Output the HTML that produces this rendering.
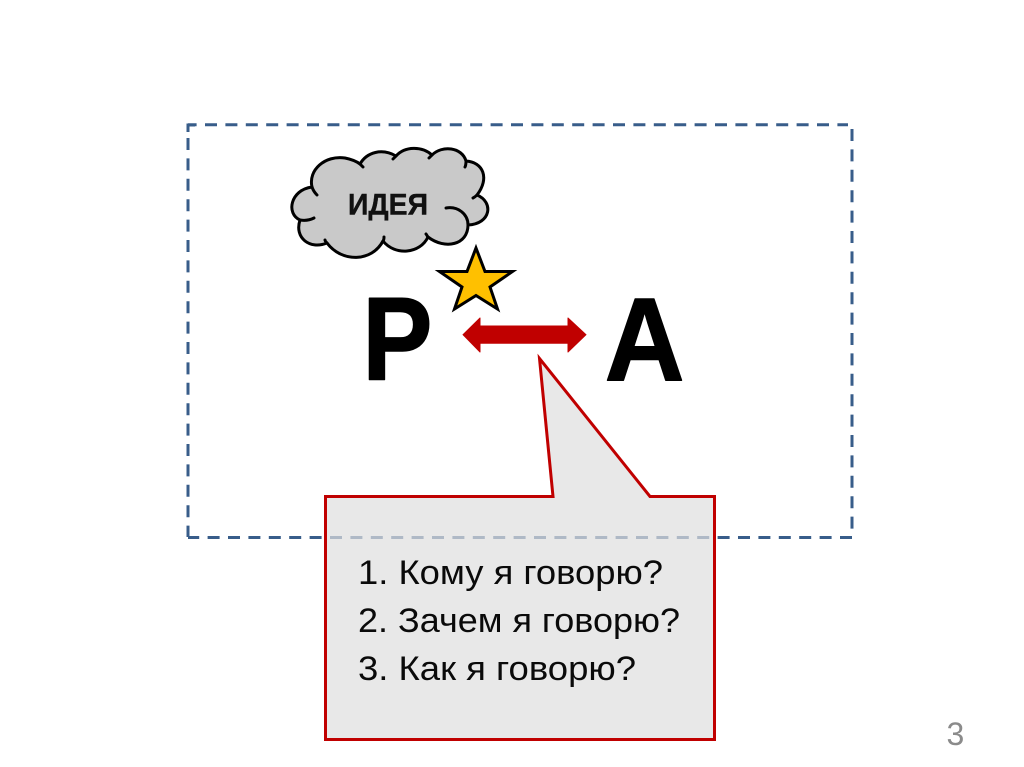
<!DOCTYPE html>
<html>
<head>
<meta charset="utf-8">
<style>
html,body{margin:0;padding:0;background:#fff;width:1024px;height:767px;overflow:hidden}
svg{display:block}
text{font-family:"Liberation Sans",sans-serif}
</style>
</head>
<body>
<svg width="1024" height="767" viewBox="0 0 1024 767" xmlns="http://www.w3.org/2000/svg">
<rect width="1024" height="767" fill="#fff"/>

<!-- dashed frame -->
<g stroke="#385d8a" stroke-width="3" fill="none" stroke-dasharray="12 8.4">
<line x1="188" y1="124.7" x2="848" y2="124.7" stroke-dashoffset="3.4"/>
<line x1="852" y1="125" x2="852" y2="537" stroke-dashoffset="-4"/>
<line x1="188" y1="537.5" x2="853" y2="537.5" stroke-dashoffset="0.8"/>
<line x1="188" y1="125" x2="188" y2="537" stroke-dashoffset="7.4"/>
</g>
<path d="M188 132V125H195" fill="none" stroke="#385d8a" stroke-width="3"/>

<!-- cloud -->
<path d="M312 187 C308 170 325 155 345 158 C350 159 356 161 360 164 C367 152 382 148 396 156 C405 146 422 146 432 155 C442 145 462 147 466 161 C483 162 490 178 477 195 C494 202 491 224 468 225 C468 245 445 250 428 237 C420 254 395 256 383 241 C372 262 342 263 327 243 C310 250 294 238 300 220 C286 214 290 190 312 187 Z" fill="#c9c9c9" stroke="#000" stroke-width="3" stroke-linejoin="round"/>
<path d="M312 187 C313 190 315 193 317 195 M300 220 C306 221 310 220 314 218 M360 164 C361 165 362 166 363 167 M396 156 C395 157 394 158 393 159 M432 155 C431 156 430 157 429 158 M466 161 C466 163 466 165 465 167 M477 195 C476 196 475 197 473 198 M446 208 C458 206 468 214 468 225 M428 237 C427 236 427 235 426 234 M383 241 C384 240 384 238 384 237 M327 243 C326 242 325 241 325 240" fill="none" stroke="#000" stroke-width="3" stroke-linecap="round"/>
<text x="348" y="214.5" font-size="30" font-weight="bold" fill="#111" stroke="#111" stroke-width="0.4" textLength="80" lengthAdjust="spacingAndGlyphs">ИДЕЯ</text>

<!-- P and A -->
<text x="362.4" y="379.5" font-size="118" font-weight="bold" fill="#000" stroke="#000" stroke-width="1.5" stroke-linejoin="round" textLength="70" lengthAdjust="spacingAndGlyphs">Р</text>
<text x="604.7" y="380" font-size="118" font-weight="bold" fill="#000" stroke="#000" stroke-width="1.5" stroke-linejoin="round" textLength="79.7" lengthAdjust="spacingAndGlyphs">А</text>

<!-- star -->
<polygon points="476,248 485,271.5 512.5,271.5 490,287 497.5,309 476,295.5 454.5,309 462,287 439.5,271.5 467,271.5" fill="#ffc000" stroke="#000" stroke-width="3" stroke-linejoin="miter" stroke-miterlimit="10"/>

<!-- double arrow -->
<polygon points="463,334.7 480,318 480,326 568,326 568,318 586,334.7 568,352 568,343.3 480,343.3 480,352" fill="#c00000" stroke="#c00000" stroke-width="1" stroke-linejoin="round"/>

<!-- callout -->
<path d="M325.5 496.5 H553 L539.5 358.5 L650 496.5 H714.5 V739.5 H325.5 Z" fill="#dfdfdf" fill-opacity="0.714" stroke="#c00000" stroke-width="3" stroke-linejoin="miter"/>
<g font-size="34" fill="#0a0a0a">
<text x="358" y="584" textLength="305" lengthAdjust="spacingAndGlyphs">1. Кому я говорю?</text>
<text x="358" y="632" textLength="322" lengthAdjust="spacingAndGlyphs">2. Зачем я говорю?</text>
<text x="358" y="680" textLength="278" lengthAdjust="spacingAndGlyphs">3. Как я говорю?</text>
</g>

<!-- slide number -->
<text x="946.5" y="745" font-size="32" fill="#8b8b8b">3</text>
</svg>
</body>
</html>
